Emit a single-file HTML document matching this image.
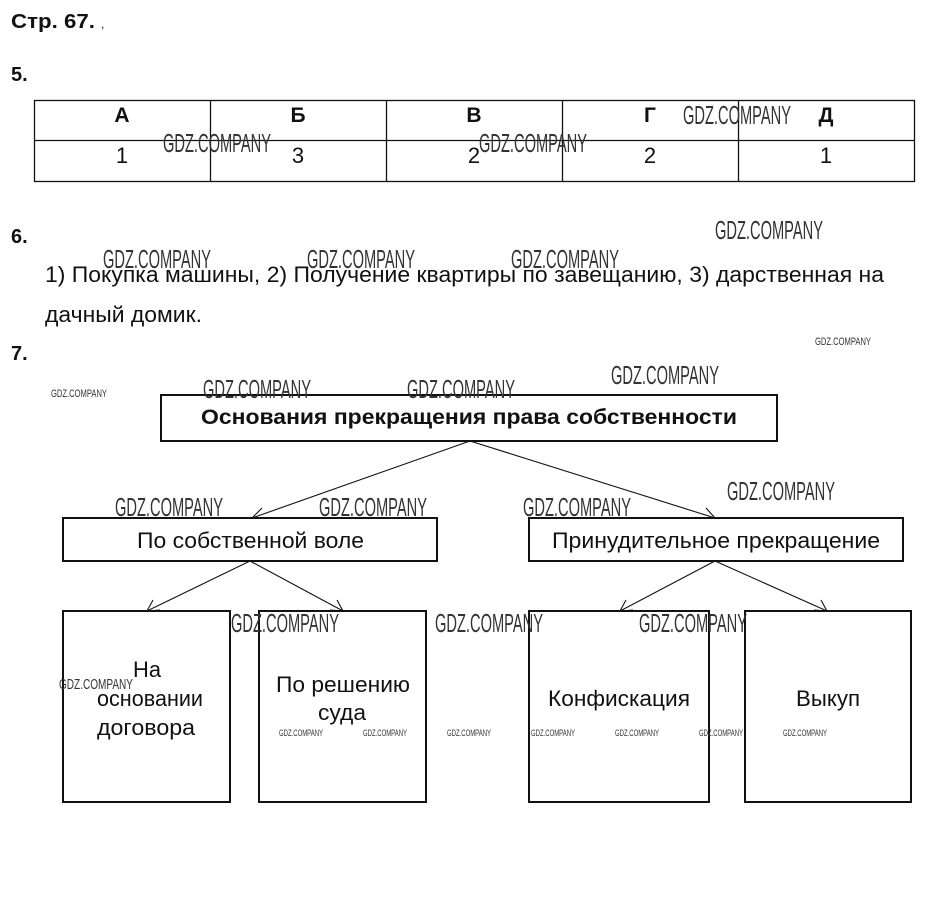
<!DOCTYPE html>
<html><head><meta charset="utf-8"><style>
body{margin:0;background:#fff;width:929px;height:906px;overflow:hidden}
svg{display:block}
.t{font-family:"Liberation Sans",sans-serif;fill:#111}
.b{font-weight:bold}
.w{font-family:"Liberation Sans Narrow","Liberation Sans",sans-serif;fill:#333}
</style></head><body>
<svg width="929" height="906" viewBox="0 0 929 906" xmlns="http://www.w3.org/2000/svg">
<text class="t b" x="11" y="28" font-size="20" textLength="84" lengthAdjust="spacingAndGlyphs">Стр. 67.</text>
<text class="t" x="101" y="28" font-size="12" fill="#888">,</text>
<text class="t b" x="11" y="81" font-size="20">5.</text>
<g stroke="#111" stroke-width="1.3" fill="none">
<rect x="34.5" y="100.5" width="880" height="81"/>
<line x1="34" y1="140.5" x2="914" y2="140.5"/>
<line x1="210.5" y1="100" x2="210.5" y2="181"/>
<line x1="386.5" y1="100" x2="386.5" y2="181"/>
<line x1="562.5" y1="100" x2="562.5" y2="181"/>
<line x1="738.5" y1="100" x2="738.5" y2="181"/>
</g>
<g class="t b" font-size="21" text-anchor="middle">
<text x="122" y="122">А</text><text x="298" y="122">Б</text><text x="474" y="122">В</text><text x="650" y="122">Г</text><text x="826" y="122">Д</text>
</g>
<g class="t" font-size="22" text-anchor="middle" fill="#222">
<text x="122" y="163">1</text><text x="298" y="163">3</text><text x="474" y="163">2</text><text x="650" y="163">2</text><text x="826" y="163">1</text>
</g>
<text class="t b" x="11" y="243" font-size="20">6.</text>
<text class="t" x="45" y="282" font-size="22" fill="#222" textLength="839" lengthAdjust="spacingAndGlyphs">1) Покупка машины, 2) Получение квартиры по завещанию, 3) дарственная на</text>
<text class="t" x="45" y="322" font-size="22" fill="#222" textLength="157" lengthAdjust="spacingAndGlyphs">дачный домик.</text>
<text class="t b" x="11" y="360" font-size="20">7.</text>

<g stroke="#111" stroke-width="2" fill="none">
<rect x="161" y="395" width="616" height="46"/>
<rect x="63" y="518" width="374" height="43"/>
<rect x="529" y="518" width="374" height="43"/>
<rect x="63" y="611" width="167" height="191"/>
<rect x="259" y="611" width="167" height="191"/>
<rect x="529" y="611" width="180" height="191"/>
<rect x="745" y="611" width="166" height="191"/>
</g>
<g stroke="#111" stroke-width="1.1" fill="none">
<line x1="470" y1="441" x2="252" y2="518"/><polyline points="262,508 252,518 266,518"/>
<line x1="470" y1="441" x2="715" y2="518"/><polyline points="701,518 715,518 706,508"/>
<line x1="250" y1="561" x2="147" y2="611"/><polyline points="153,600 147,611 160,610"/>
<line x1="250" y1="561" x2="343" y2="611"/><polyline points="330,610 343,611 337,600"/>
<line x1="715" y1="561" x2="620" y2="611"/><polyline points="626,600 620,611 633,610"/>
<line x1="715" y1="561" x2="827" y2="611"/><polyline points="814,610 827,611 821,600"/>
</g>
<text class="t b" x="201" y="424" font-size="21" textLength="536" lengthAdjust="spacingAndGlyphs">Основания прекращения права собственности</text>
<text class="t" x="137" y="548" font-size="22" textLength="227" lengthAdjust="spacingAndGlyphs">По собственной воле</text>
<text class="t" x="552" y="548" font-size="22" textLength="328" lengthAdjust="spacingAndGlyphs">Принудительное прекращение</text>
<g class="t" font-size="22" fill="#222">
<text x="133" y="677" textLength="28" lengthAdjust="spacingAndGlyphs">На</text>
<text x="97" y="706" textLength="106" lengthAdjust="spacingAndGlyphs">основании</text>
<text x="97" y="735" textLength="98" lengthAdjust="spacingAndGlyphs">договора</text>
<text x="276" y="692" textLength="134" lengthAdjust="spacingAndGlyphs">По решению</text>
<text x="318" y="720" textLength="48" lengthAdjust="spacingAndGlyphs">суда</text>
<text x="548" y="706" textLength="142" lengthAdjust="spacingAndGlyphs">Конфискация</text>
<text x="796" y="706" textLength="64" lengthAdjust="spacingAndGlyphs">Выкуп</text>
</g>

<g class="w" font-size="26">
<text x="683" y="124" textLength="108" lengthAdjust="spacingAndGlyphs">GDZ.COMPANY</text>
<text x="163" y="152" textLength="108" lengthAdjust="spacingAndGlyphs">GDZ.COMPANY</text>
<text x="479" y="152" textLength="108" lengthAdjust="spacingAndGlyphs">GDZ.COMPANY</text>
<text x="715" y="239" textLength="108" lengthAdjust="spacingAndGlyphs">GDZ.COMPANY</text>
<text x="103" y="268" textLength="108" lengthAdjust="spacingAndGlyphs">GDZ.COMPANY</text>
<text x="307" y="268" textLength="108" lengthAdjust="spacingAndGlyphs">GDZ.COMPANY</text>
<text x="511" y="268" textLength="108" lengthAdjust="spacingAndGlyphs">GDZ.COMPANY</text>
<text x="203" y="398" textLength="108" lengthAdjust="spacingAndGlyphs">GDZ.COMPANY</text>
<text x="407" y="398" textLength="108" lengthAdjust="spacingAndGlyphs">GDZ.COMPANY</text>
<text x="611" y="384" textLength="108" lengthAdjust="spacingAndGlyphs">GDZ.COMPANY</text>
<text x="115" y="516" textLength="108" lengthAdjust="spacingAndGlyphs">GDZ.COMPANY</text>
<text x="319" y="516" textLength="108" lengthAdjust="spacingAndGlyphs">GDZ.COMPANY</text>
<text x="523" y="516" textLength="108" lengthAdjust="spacingAndGlyphs">GDZ.COMPANY</text>
<text x="727" y="500" textLength="108" lengthAdjust="spacingAndGlyphs">GDZ.COMPANY</text>
<text x="231" y="632" textLength="108" lengthAdjust="spacingAndGlyphs">GDZ.COMPANY</text>
<text x="435" y="632" textLength="108" lengthAdjust="spacingAndGlyphs">GDZ.COMPANY</text>
<text x="639" y="632" textLength="108" lengthAdjust="spacingAndGlyphs">GDZ.COMPANY</text>
</g>
<g class="w" font-size="15">
<text x="59" y="689" textLength="74" lengthAdjust="spacingAndGlyphs">GDZ.COMPANY</text>
</g>
<g class="w" font-size="11">
<text x="815" y="345" textLength="56" lengthAdjust="spacingAndGlyphs">GDZ.COMPANY</text>
<text x="51" y="397" textLength="56" lengthAdjust="spacingAndGlyphs">GDZ.COMPANY</text>
</g>
<g class="w" font-size="9">
<text x="279" y="736" textLength="44" lengthAdjust="spacingAndGlyphs">GDZ.COMPANY</text>
<text x="363" y="736" textLength="44" lengthAdjust="spacingAndGlyphs">GDZ.COMPANY</text>
<text x="447" y="736" textLength="44" lengthAdjust="spacingAndGlyphs">GDZ.COMPANY</text>
<text x="531" y="736" textLength="44" lengthAdjust="spacingAndGlyphs">GDZ.COMPANY</text>
<text x="615" y="736" textLength="44" lengthAdjust="spacingAndGlyphs">GDZ.COMPANY</text>
<text x="699" y="736" textLength="44" lengthAdjust="spacingAndGlyphs">GDZ.COMPANY</text>
<text x="783" y="736" textLength="44" lengthAdjust="spacingAndGlyphs">GDZ.COMPANY</text>
</g>
</svg>
</body></html>
